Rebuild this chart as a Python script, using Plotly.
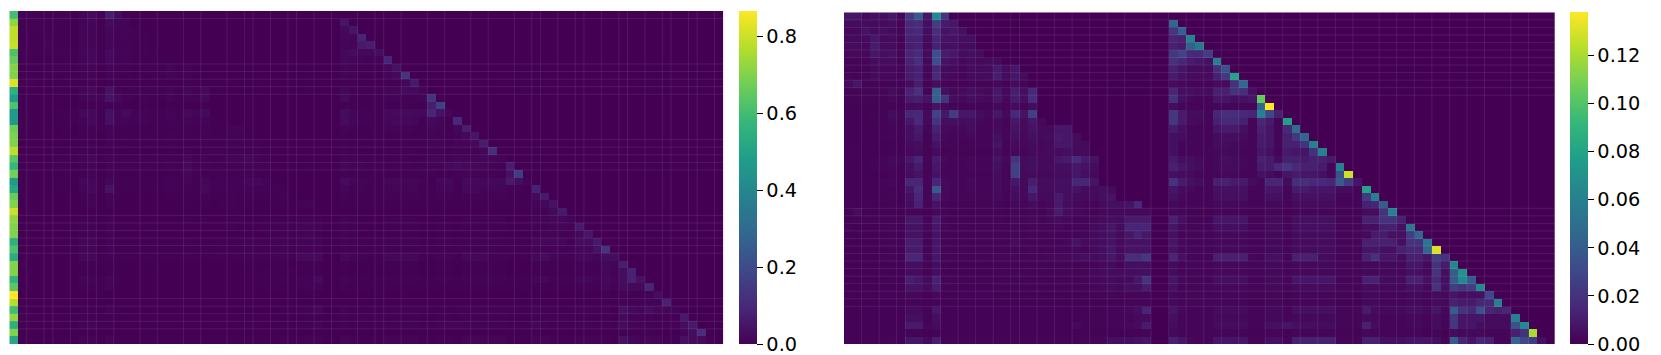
import plotly.graph_objects as go

# All values below are read off the picture. Blocks A are in units of right_unit_a / left_unit_a,
# blocks B and the first column are in thousandths.
ROWS = 44
LEFT_COLS = 82
RIGHT_COLS = 81
right_unit_a = 0.0007
left_unit_a = 0.0006
unit_b = 0.001

# Right panel: columns 0-34
right_block_a = [
 [12,12,4,8,8, 12,3,32,55,12, 93,30],
 [6,6,6,6,5, 8,3,22,25,8, 35,14,12],
 [4,4,10,6,8, 6,2,20,22,7, 25,10,12,8],
 [5,5,6,12,5, 6,2,18,18,5, 20,10,10,8,8],
 [5,6,4,14,6, 6,2,16,18,4, 18,8,8,6,6],
 [4,4,4,12,8, 9,3,20,24,5, 48,14,12,6,8, 6],
 [2,2,3,6,6, 6,2,18,26,4, 48,10,8,4,6, 4,6,5],
 [2,2,2,5,4, 4,2,14,18,3, 20,6,5,3,6, 5,5,14,6,12],
 [3,2,2,6,4, 4,2,14,18,3, 22,5,4,3,5, 5,6,16,6,12, 6],
 [6,12,2,2,2, 2,1,6,16,2, 8,3,2,2,3, 2,2,4,2,6, 3],
 [2,2,2,2,3, 6,2,18,28,3, 60,8,4,5,8, 6,4,12,4,16, 8,22],
 [2,2,2,2,2, 4,2,14,16,10, 58,30,6,4,8, 5,4,12,4,14, 8,25],
 [1,1,1,1,2, 2,1,5,6,2, 10,4,2,2,3, 2,2,4,2,5, 2,6],
 [1,1,1,2,2, 6,2,20,22,5, 40,12,36,12,12, 6,4,12,4,22, 10,38],
 [1,1,1,2,2, 4,2,12,22,4, 30,8,8,6,8, 4,3,5,3,12, 6,12,4],
 [1,1,1,1,2, 3,2,8,14,3, 18,5,4,4,6, 3,3,5,3,10, 5,10,5,5,12, 12],
 [1,1,1,1,2, 3,1,8,12,2, 14,4,3,3,4, 3,3,8,3,8, 4,8,5,6,14, 12,6],
 [1,1,1,1,1, 2,1,6,8,2, 10,3,3,2,3, 3,3,10,3,6, 4,6,4,5,12, 12,6,5],
 [1,2,1,1,1, 2,1,4,6,2, 6,2,2,2,2, 2,2,6,2,4, 3,5,4,5,6, 8,5,5],
 [1,1,1,2,3, 5,2,12,20,3, 14,4,3,3,4, 3,3,10,4,30, 6,8,5,5,12, 14,24,14,10],
 [1,1,1,2,3, 4,1,8,14,2, 12,3,3,3,4, 3,3,8,3,38, 6,8,5,5,8, 8,12,10,6],
 [1,1,1,1,1, 3,1,6,10,2, 10,3,3,3,3, 2,2,6,3,38, 5,6,4,4,6, 6,12,8,5],
 [1,1,1,1,3, 4,1,20,20,3, 20,4,3,3,5, 3,3,6,3,12, 4,16,6,6,8, 8,20,20,10],
 [1,1,1,1,2, 3,1,12,25,3, 55,5,3,3,4, 3,3,6,3,8, 4,22,6,6,8, 8,10,6,6,8, 6],
 [1,1,1,1,2, 2,1,8,20,3, 20,4,3,3,3, 2,2,5,3,6, 4,12,5,5,14, 8,6,5,5,8, 10],
 [1,1,1,1,1, 2,1,6,18,3, 10,3,2,2,2, 2,2,3,2,4, 3,6,3,4,14, 6,4,3,3,6, 8,8,10,22],
 [2,6,1,1,1, 1,1,3,3,1, 4,2,1,1,1, 1,1,2,1,3, 2,3,2,5,14, 6,4,3,2,4, 4,4,4,4,4],
 [1,2,2,2,2, 3,2,12,12,3, 14,3,2,2,2, 2,2,3,2,4, 3,4,3,4,6, 4,3,3,4,6, 8,6,14,14,14],
 [2,1,1,1,2, 3,1,10,10,3, 12,3,2,2,2, 2,2,3,2,3, 2,3,3,3,4, 3,3,3,5,8, 12,6,20,20,20],
 [1,1,1,1,1, 2,1,10,10,3, 10,2,2,2,2, 2,2,2,2,3, 2,3,2,3,3, 3,3,3,5,8, 10,5,12,18,12],
 [1,1,1,1,2, 3,1,15,15,2, 12,2,2,2,2, 2,2,3,2,5, 3,3,3,3,3, 4,10,5,6,8, 10,5,10,10,10],
 [1,1,1,1,1, 2,1,14,14,2, 12,2,2,2,2, 2,2,2,2,3, 2,3,2,3,3, 3,4,3,5,8, 12,5,10,10,10],
 [1,1,1,1,2, 3,1,20,20,3, 12,2,2,2,2, 2,2,3,3,3, 2,3,3,4,4, 4,6,8,6,8, 12,6,25,25,32],
 [1,1,1,1,1, 1,1,8,8,2, 8,2,1,1,1, 1,1,2,2,2, 2,2,2,2,2, 2,2,2,3,5, 6,3,8,8,8],
 [1,1,1,1,1, 1,1,6,6,2, 8,2,1,1,1, 1,1,2,2,2, 2,2,2,2,2, 2,2,2,4,5, 6,6,7,7,8],
 [1,1,1,1,1, 2,1,16,12,5, 18,2,2,2,2, 2,2,2,2,2, 2,2,2,2,2, 2,2,3,4,5, 6,4,6,12,30],
 [1,1,1,1,1, 1,1,10,10,5, 14,2,1,1,1, 1,1,2,2,2, 2,2,2,2,2, 2,2,2,3,4, 6,4,8,8,15],
 [1,1,1,1,1, 1,1,4,4,1, 4,1,1,1,1, 1,1,1,1,1, 1,1,1,1,1, 1,1,1,2,2, 3,2,3,3,3],
 [1,1,1,1,1, 1,1,3,2,1, 3,1,1,1,1, 1,1,1,1,1, 1,1,1,1,1, 1,1,1,1,1, 2,2,2,3,3],
 [2,1,1,1,1, 1,1,6,6,2, 12,1,1,1,1, 1,1,1,1,1, 1,1,1,1,1, 1,1,1,2,2, 3,3,4,8,20],
 [1,1,1,1,1, 1,1,8,8,2, 8,1,1,1,1, 1,1,1,1,1, 1,1,1,1,1, 1,1,2,2,2, 3,3,3,5,6],
 [1,1,1,1,1, 1,1,14,14,3, 6,1,1,1,1, 1,1,1,1,1, 1,1,1,1,1, 1,5,2,2,2, 3,3,4,6,15],
 [1,1,1,1,1, 1,1,2,2,1, 2,1,1,1,1, 1,1,1,1,1, 1,1,1,1,1, 1,1,1,1,1, 1,1,2,2,2],
 [1,1,1,2,2, 3,1,12,12,5, 16,2,2,2,2, 2,2,2,2,2, 2,2,2,2,2, 2,2,3,3,3, 8,8,8,10,12],
]

# Right panel: columns from 37 on
right_block_b = [
 [],
 [45],
 [22,42],
 [14,12,62],
 [12,10,42,55],
 [22,28,16,16,25],
 [20,14,10,8,6, 60],
 [12,8,4,4,4, 18,35],
 [10,6,4,4,4, 12,22,80],
 [4,3,2,2,2, 4,4,20,45],
 [14,5,5,4,4, 12,12,20,18,6],
 [20,5,3,2,2, 8,8,5,6,8, 105],
 [4,2,2,2,2, 2,2,2,2,2, 45,138],
 [22,10,4,4,2, 14,18,18,16,14, 60,30,12],
 [22,10,4,3,2, 12,16,16,12,2, 14,10,2,78],
 [10,6,2,2,2, 8,10,10,6,2, 12,8,2,16,50],
 [6,4,2,2,2, 4,5,5,4,2, 10,8,2,12,22, 45],
 [6,2,2,2,2, 4,4,3,3,2, 10,8,2,12,12, 20,60],
 [6,2,2,2,2, 3,3,3,2,2, 8,6,2,10,8, 8,20,60],
 [10,5,5,3,2, 3,5,4,3,2, 12,10,4,12,12, 10,12,12,10],
 [12,8,6,4,2, 3,4,4,3,2, 10,10,16,22,16, 12,12,10,2,60],
 [6,4,4,2,2, 2,3,3,2,2, 6,4,2,8,10, 8,8,6,2,35, 128],
 [20,10,6,4,2, 12,12,10,10,4, 2,14,14,4,18, 18,16,16,14,40, 24,8],
 [8,4,3,2,2, 6,6,6,6,2, 2,8,8,2,10, 10,8,8,8,4, 4,2,80],
 [6,3,2,2,2, 5,5,5,5,2, 2,6,6,2,6, 6,6,6,6,2, 2,2,24,60],
 [3,2,2,2,2, 3,3,3,3,2, 2,3,3,2,4, 4,4,4,4,2, 2,2,12,14,40],
 [3,2,1,1,1, 2,2,2,2,1, 1,2,2,1,2, 2,2,2,2,1, 1,1,4,4,20, 60],
 [12,5,2,2,2, 8,8,8,8,2, 2,4,4,2,6, 6,6,6,6,2, 2,2,12,12,20, 20,12],
 [8,3,2,2,2, 5,5,5,5,2, 2,4,4,2,5, 5,5,5,5,2, 2,2,5,5,12, 12,6,55],
 [6,2,2,2,2, 3,3,3,3,2, 2,3,3,2,4, 4,4,4,4,2, 2,2,3,10,10, 6,6,25,45],
 [8,3,2,2,2, 3,3,3,3,2, 2,3,3,2,4, 4,4,4,4,2, 2,2,12,12,12, 12,5,20,20,55],
 [7,3,2,2,2, 3,3,3,3,2, 2,3,3,2,4, 4,4,4,4,2, 2,2,8,8,6, 6,12,15,15,45, 130],
 [14,6,2,2,2, 12,12,12,12,3, 2,6,6,2,12, 12,12,4,4,2, 2,2,12,20,8, 8,4,12,12,8, 25,20],
 [4,2,2,2,2, 3,3,3,3,2, 2,3,3,2,3, 3,3,3,3,2, 2,2,3,3,3, 3,3,8,8,3, 20,10,65],
 [4,2,2,2,2, 3,3,3,3,2, 2,3,3,2,3, 3,3,3,3,2, 2,2,3,3,3, 3,3,6,6,3, 20,5,40,70],
 [8,3,2,2,2, 5,5,5,5,2, 2,4,4,2,8, 8,8,8,8,2, 2,2,12,12,4, 4,4,12,12,6, 16,6,40,65,40],
 [6,2,2,2,2, 3,3,3,3,2, 2,3,3,2,4, 4,4,4,4,2, 2,2,4,4,3, 3,3,6,6,3, 20,6,25,20,25, 65],
 [3,2,2,2,2, 2,2,2,2,1, 1,2,2,1,2, 2,2,2,2,1, 1,1,3,3,2, 2,2,3,3,2, 4,3,8,5,5, 6,30],
 [3,2,2,2,2, 2,2,2,2,1, 1,2,2,1,2, 2,2,2,2,1, 1,1,3,3,2, 2,2,3,3,2, 4,3,12,10,10, 14,16,60],
 [8,3,2,2,2, 4,4,4,4,2, 2,3,3,2,6, 6,6,6,6,2, 2,2,10,4,3, 3,3,6,6,3, 8,3,40,20,16, 35,14,12,14],
 [5,2,2,2,2, 3,3,3,3,2, 2,3,3,2,3, 3,3,3,3,2, 2,2,4,3,2, 2,2,3,3,2, 4,2,22,8,8, 8,4,4,4,60],
 [4,2,2,2,2, 4,4,4,4,2, 2,6,6,8,6, 5,5,4,4,2, 2,2,12,4,2, 2,2,3,3,2, 4,2,22,8,8, 5,4,4,4,35, 65],
 [3,2,2,2,2, 2,2,2,2,1, 1,2,2,1,2, 2,2,2,2,1, 1,1,3,2,2, 2,2,2,2,1, 2,1,4,3,3, 3,2,2,2,12, 20,120],
 [12,8,3,2,2, 8,8,8,8,2, 2,6,6,2,12, 12,12,12,12,2, 2,2,12,12,6, 6,6,8,8,8, 6,2,40,14,8, 14,12,2,2,45, 30,25,6],
]

# Left panel: bright first column
left_first_col = [
 600,720,780,780,790,620,660,700,700,820,550,480,620,470,470,670,690,700,780,640,580,680,
 470,520,660,700,800,720,700,700,550,620,540,700,700,570,640,865,770,600,720,550,700,520,
]

# Left panel: columns 1-35
left_block_a = [
 [8,8,3,6,6, 9,2,22,35,10, 120,40,6],
 [4,4,4,4,3, 6,2,18,20,6, 35,14,12],
 [3,3,8,5,6, 5,2,16,18,5, 25,10,12,8],
 [4,4,5,10,4, 5,2,15,15,4, 22,10,10,8,6],
 [4,5,3,12,5, 5,2,14,15,3, 20,8,8,5,5],
 [3,3,3,10,8, 10,3,22,26,5, 38,16,14,6,8, 6],
 [2,2,2,5,5, 5,2,18,26,4, 38,10,8,4,6, 4,6,5],
 [2,2,2,4,3, 3,2,10,14,2, 16,5,4,2,5, 4,4,12,5,10],
 [2,2,2,4,3, 3,2,10,14,2, 18,4,3,2,4, 4,5,12,5,10, 5],
 [3,6,1,1,1, 1,1,4,8,1, 5,2,1,1,2, 1,1,2,1,3, 2],
 [2,2,2,2,3, 7,2,22,30,3, 70,10,5,6,10, 8,5,15,5,20, 10,28],
 [2,2,2,2,3, 5,2,18,20,12, 70,30,8,5,10, 6,5,16,5,18, 10,32],
 [1,1,1,1,2, 2,1,5,6,2, 10,4,2,2,3, 2,2,4,2,5, 2,6],
 [1,1,1,2,3, 8,3,28,30,6, 60,16,35,16,16, 8,5,16,5,30, 14,38],
 [1,1,1,2,3, 6,3,18,30,6, 60,12,12,8,12, 6,4,8,4,16, 8,16,6],
 [1,1,1,1,2, 3,2,8,14,3, 18,5,4,4,6, 3,3,5,3,10, 5,10,5,5,12, 12],
 [1,1,1,1,2, 3,1,7,10,2, 12,4,3,3,4, 3,3,7,3,8, 4,8,5,5,12, 10,5],
 [1,1,1,1,1, 2,1,6,7,2, 9,3,3,2,3, 3,3,9,3,6, 4,6,4,5,10, 10,5,4],
 [1,1,1,1,1, 2,1,3,4,1, 4,2,2,2,2, 2,2,4,2,3, 2,4,3,3,5, 6,4,4],
 [1,1,1,2,3, 5,2,12,20,3, 14,4,3,3,4, 3,3,10,4,24, 6,8,5,5,12, 14,24,14,10],
 [1,1,1,2,3, 4,1,9,16,2, 14,4,3,3,4, 3,3,9,3,32, 6,8,6,6,9, 9,14,12,7],
 [1,1,1,1,1, 3,1,5,8,1, 8,3,2,2,3, 2,2,5,3,22, 4,5,3,3,5, 5,10,6,4],
 [1,1,1,1,3, 4,1,25,25,3, 25,5,4,4,6, 4,4,8,4,15, 5,20,8,8,10, 10,25,25,12],
 [1,1,1,1,3, 3,1,15,30,3, 70,6,4,4,5, 4,4,8,4,10, 5,28,8,8,10, 10,12,8,8,10, 8],
 [1,1,1,1,2, 2,1,6,15,2, 15,3,2,2,2, 2,2,4,2,5, 3,9,4,4,10, 6,5,4,4,6, 8],
 [1,1,1,1,1, 2,1,4,12,2, 7,2,2,2,2, 2,2,2,2,3, 2,4,2,3,10, 4,3,2,2,4, 6,6,7,15],
 [1,3,0,0,0, 1,0,1,1,0, 2,1,0,0,0, 0,0,1,0,1, 1,1,1,2,6, 3,2,1,1,2, 2,2,2,2,2],
 [1,1,1,1,1, 2,1,8,8,2, 10,2,1,1,1, 1,1,2,1,3, 2,3,2,3,4, 3,2,2,3,4, 6,4,10,10,10],
 [1,1,1,1,1, 2,1,7,7,2, 8,2,1,1,1, 1,1,2,1,2, 1,2,2,2,3, 2,2,2,4,6, 8,4,14,14,14],
 [1,1,1,1,1, 1,1,7,7,2, 7,1,1,1,1, 1,1,1,1,2, 1,2,1,2,2, 2,2,2,4,6, 7,4,9,13,9],
 [1,1,1,1,2, 4,1,20,20,3, 16,3,3,3,3, 3,3,4,3,7, 4,4,4,4,4, 5,14,7,8,11, 14,7,14,14,14],
 [1,1,1,1,1, 2,1,12,12,2, 10,2,2,2,2, 2,2,2,2,3, 2,3,2,3,3, 3,4,3,4,7, 10,4,8,8,8],
 [1,1,1,1,2, 4,1,26,26,4, 16,3,3,3,3, 3,3,4,4,4, 3,4,4,5,5, 5,8,10,8,10, 16,8,32,32,38],
 [1,1,1,1,1, 1,1,6,6,1, 6,1,1,1,1, 1,1,1,1,1, 1,1,1,1,1, 1,1,1,2,4, 4,2,6,6,6],
 [1,1,1,1,1, 1,1,5,5,1, 6,1,1,1,1, 1,1,1,1,1, 1,1,1,1,1, 1,1,1,3,4, 4,4,5,5,6],
 [1,1,1,1,1, 2,1,20,15,6, 22,3,2,2,2, 2,2,2,2,2, 2,2,2,2,2, 2,2,4,5,6, 8,5,8,16,38],
 [1,1,1,1,1, 1,1,10,10,5, 14,2,1,1,1, 1,1,2,2,2, 2,2,2,2,2, 2,2,2,3,4, 6,4,8,8,16],
 [0,0,0,0,0, 0,0,1,1,0, 1],
 [0,0,0,0,0, 0,0,1,1,0, 1],
 [2,1,1,1,1, 1,1,6,6,2, 14,1,1,1,1, 1,1,1,1,1, 1,1,1,1,1, 1,1,1,2,2, 3,3,5,10,24],
 [1,1,1,1,1, 1,1,6,6,1, 6,1,1,1,1, 1,1,1,1,1, 1,1,1,1,1, 1,1,1,1,1, 2,2,2,4,5],
 [1,1,1,1,1, 1,1,18,18,4, 8,1,1,1,1, 1,1,1,1,1, 1,1,1,1,1, 1,6,2,2,2, 4,4,5,8,20],
 [0,0,0,0,0, 0,0,1,1,0, 1],
 [1,1,1,2,3, 4,1,16,16,6, 22,3,3,3,3, 3,3,3,3,3, 3,3,3,3,3, 3,3,4,4,4, 10,10,10,12,16],
]

# Left panel: columns from 38 on
left_block_b = [
 [],
 [50],
 [20,50],
 [14,12,90],
 [12,10,60,70],
 [20,25,14,14,30],
 [16,12,8,6,5, 90],
 [10,6,3,3,3, 15,40],
 [8,5,3,3,3, 10,18,130],
 [3,2,1,1,1, 3,3,15,60],
 [15,5,5,4,4, 12,12,22,20,10],
 [22,5,3,2,2, 8,8,5,6,8, 130],
 [4,2,2,2,2, 2,2,2,2,2, 70,170],
 [28,12,5,5,2, 18,22,22,20,18, 90,40,15],
 [28,12,5,4,2, 16,20,20,16,3, 18,12,3,100],
 [10,6,2,2,2, 8,10,10,6,2, 12,8,2,16,70],
 [5,3,2,2,2, 3,4,4,3,2, 8,6,2,10,18, 50],
 [5,2,2,2,2, 3,3,3,3,2, 9,7,2,10,10, 18,70],
 [4,2,1,1,1, 2,2,2,2,1, 5,4,1,6,5, 5,14,110],
 [10,5,5,3,2, 3,5,4,3,2, 12,10,4,12,12, 10,12,12,10],
 [14,9,7,4,2, 3,4,4,3,2, 11,11,18,25,18, 14,14,11,2,70],
 [5,3,3,2,2, 2,2,2,2,2, 5,3,2,6,8, 6,6,5,2,40, 150],
 [25,12,7,5,2, 15,15,12,12,4, 2,18,18,5,22, 22,20,20,18,60, 30,10],
 [12,6,4,3,3, 9,9,9,9,3, 3,12,12,3,15, 15,12,12,12,6, 6,3,80],
 [5,2,2,2,2, 4,4,4,4,2, 2,5,5,2,5, 5,5,5,5,2, 2,2,20,60],
 [3,2,2,2,2, 3,3,3,3,2, 2,3,3,2,3, 3,3,3,3,2, 2,2,10,15,40],
 [1,1,0,0,0, 1,1,1,1,0, 0,1,1,0,1, 1,1,1,1,0, 0,0,3,3,20, 60],
 [8,3,1,1,1, 5,5,5,5,1, 1,3,3,1,4, 4,4,4,4,1, 1,1,8,8,14, 14,10],
 [5,2,1,1,1, 3,3,3,3,1, 1,3,3,1,3, 3,3,3,3,1, 1,1,3,3,8, 8,4,60],
 [4,2,1,1,1, 2,2,2,2,1, 1,2,2,1,3, 3,3,3,3,1, 1,1,2,7,7, 4,4,20,50],
 [10,4,2,2,2, 4,4,4,4,2, 2,4,4,2,5, 5,5,5,5,2, 2,2,15,15,15, 15,6,25,25,60],
 [5,2,2,2,2, 2,2,2,2,2, 2,2,2,2,3, 3,3,3,3,2, 2,2,6,6,5, 5,10,14,14,40, 130],
 [18,8,3,3,3, 16,16,16,16,4, 3,8,8,3,16, 16,16,5,5,3, 3,3,16,26,10, 10,5,16,16,10, 30,30],
 [3,1,1,1,1, 2,2,2,2,1, 1,2,2,1,2, 2,2,2,2,1, 1,1,2,2,2, 2,2,6,6,2, 14,8,70],
 [3,1,1,1,1, 2,2,2,2,1, 1,2,2,1,2, 2,2,2,2,1, 1,1,2,2,2, 2,2,5,5,2, 16,4,30,80],
 [10,4,2,2,2, 6,6,6,6,2, 2,5,5,2,10, 10,10,10,10,2, 2,2,14,14,5, 5,5,14,14,8, 18,8,30,80,40],
 [5,2,2,2,2, 3,3,3,3,2, 2,3,3,2,3, 3,3,3,3,2, 2,2,3,3,3, 3,3,5,5,3, 16,5,25,20,20, 90],
 [1,0,0,0,0, 0,0,0,0,0, 0,1,1,0,1, 1,1,1,1,0, 0,0,1,1,1, 1,1,1,1,1, 2,1,4,3,3, 4,30],
 [1,1,0,0,0, 1,1,1,1,0, 0,1,1,0,1, 1,1,1,1,0, 0,0,1,1,1, 1,1,2,2,1, 2,2,8,6,6, 8,10,80],
 [8,3,2,2,2, 4,4,4,4,2, 2,3,3,2,6, 6,6,6,6,2, 2,2,10,4,3, 3,3,6,6,3, 8,3,40,20,16, 30,14,12,10],
 [4,2,2,2,2, 2,2,2,2,1, 1,2,2,1,2, 2,2,2,2,1, 1,1,3,2,2, 2,2,2,2,1, 3,1,20,6,6, 6,3,3,3,60],
 [5,2,2,2,2, 5,5,5,5,2, 2,8,8,10,8, 6,6,5,5,2, 2,2,14,5,2, 2,2,4,4,2, 5,2,25,10,10, 6,5,5,5,30, 60],
 [1,1,1,1,1, 1,1,1,1,0, 0,1,1,0,1, 1,1,1,1,0, 0,0,2,1,1, 1,1,1,1,1, 1,1,3,2,2, 2,1,1,1,8, 30,110],
 [12,8,3,2,2, 8,8,8,8,2, 2,6,6,2,12, 12,12,12,12,2, 2,2,12,12,6, 6,6,8,8,8, 6,2,40,14,8, 14,12,2,2,40, 25,22,5],
]

# Cell borders where the reference shows a faint seam
left_seam_cols = [2,4,5,7,9,10,12,15,17,20,22,25,27,28,30,32,33,35,37,40,42,43,45,48,50,53,55,58,60,61,63,65,66,68,70,71,73,75,76,78,79,81]
left_seam_rows = [1,7,8,9,10,11,17,18,19,20,21,27,28,29,30,31,32,38,39,40,41,42]
right_seam_cols = [2,4,6,7,11,13,15,17,19,20,22,24,26,28,30,32,35,37,39,41,43,45,48,50,52,54,56,58,61,63,65,67,69,71,73,76,78]
right_seam_rows = [1,2,3,4,5,6,7,8,9,10,11,26,27,28,29,30,31,32,33,34,35,36,37,38,39]

left_ticks = [0.0, 0.2, 0.4, 0.6, 0.8]
right_ticks = [0.00, 0.02, 0.04, 0.06, 0.08, 0.10, 0.12]
left_max = 0.865
right_max = 0.138


def assemble(first, block_a, a_start, a_unit, block_b, b_start, cols):
    z = []
    for r in range(ROWS):
        row = [0.0] * cols
        if first is not None:
            row[0] = first[r] * unit_b
        for i, v in enumerate(block_a[r]):
            row[a_start + i] = v * a_unit
        for i, v in enumerate(block_b[r]):
            row[b_start + i] = v * unit_b
        z.append(row)
    return z


left_z = assemble(left_first_col, left_block_a, 1, left_unit_a, left_block_b, 38, LEFT_COLS)
right_z = assemble(None, right_block_a, 0, right_unit_a, right_block_b, 37, RIGHT_COLS)

W, H = 1661, 355
FONT = dict(family="DejaVu Sans", size=19.3, color="#000000")


def colorbar(x_px, top_px, bottom_px, ticks, fmt):
    return dict(
        x=x_px / W, xanchor="left", xpad=0, xref="paper",
        y=(H - bottom_px) / H, yanchor="bottom", ypad=0, yref="paper",
        lenmode="pixels", len=bottom_px - top_px,
        thicknessmode="pixels", thickness=18,
        outlinewidth=0, tickmode="array", tickvals=ticks, tickformat=fmt,
        ticks="outside", ticklen=6, tickwidth=1.4, tickcolor="#000000",
        tickfont=FONT, ticklabeloverflow="allow",
    )


fig = go.Figure()
fig.add_trace(go.Heatmap(z=left_z, colorscale="Viridis", zmin=0, zmax=left_max,
                         xaxis="x", yaxis="y", hoverongaps=False,
                         colorbar=colorbar(739, 11.5, 344, left_ticks, ".1f")))
fig.add_trace(go.Heatmap(z=right_z, colorscale="Viridis", zmin=0, zmax=right_max,
                         xaxis="x2", yaxis="y2", hoverongaps=False,
                         colorbar=colorbar(1570, 12.5, 344, right_ticks, ".2f")))

seam = dict(color="rgba(255,255,255,0.085)", width=1)
shapes = []
for xref, yref, cols, rows, sc, sr in [("x", "y", LEFT_COLS, ROWS, left_seam_cols, left_seam_rows),
                                       ("x2", "y2", RIGHT_COLS, ROWS, right_seam_cols, right_seam_rows)]:
    for c in sc:
        shapes.append(dict(type="line", xref=xref, yref=yref, x0=c - 0.5, x1=c - 0.5,
                           y0=-0.5, y1=rows - 0.5, line=seam, layer="above"))
    for r in sr:
        shapes.append(dict(type="line", xref=xref, yref=yref, x0=-0.5, x1=cols - 0.5,
                           y0=r - 0.5, y1=r - 0.5, line=seam, layer="above"))

axis = dict(visible=False, showgrid=False, zeroline=False)
fig.update_layout(
    width=W, height=H, margin=dict(l=0, r=0, t=0, b=0),
    paper_bgcolor="#ffffff", plot_bgcolor="#ffffff",
    font=dict(family="DejaVu Sans"),
    shapes=shapes,
    xaxis=dict(axis, domain=[9.3 / W, 723.3 / W], range=[-0.5, LEFT_COLS - 0.5]),
    yaxis=dict(axis, domain=[(H - 344) / H, (H - 11) / H], range=[ROWS - 0.5, -0.5]),
    xaxis2=dict(axis, domain=[844 / W, 1554.7 / W], range=[-0.5, RIGHT_COLS - 0.5]),
    yaxis2=dict(axis, domain=[(H - 344) / H, (H - 12.3) / H], range=[ROWS - 0.5, -0.5]),
)

fig.write_html("out.html", config={"displayModeBar": False},
               post_script="document.body.style.margin='0';document.documentElement.style.overflow='hidden';")
